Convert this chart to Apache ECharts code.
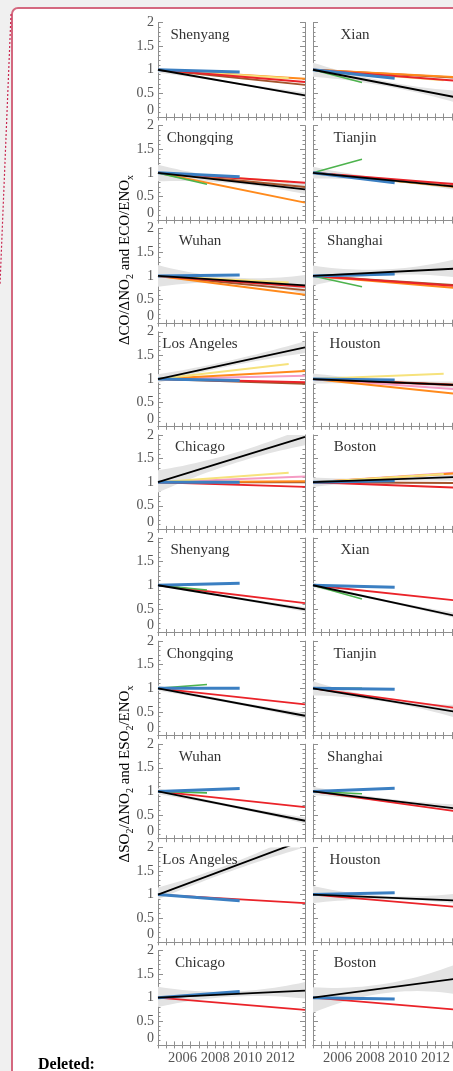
<!DOCTYPE html>
<html>
<head>
<meta charset="utf-8">
<script src="https://cdn.jsdelivr.net/npm/echarts@6/dist/echarts.min.js"></script>
<style>
  html, body { margin: 0; padding: 0; background: #f0f0f0; }
  #chart { width: 453px; height: 1071px; }
</style>
</head>
<body>
<div id="chart"></div>
<script>
// cities, row by row (left column, right column)
const cities = ['Shenyang', 'Xian', 'Chongqing', 'Tianjin', 'Wuhan', 'Shanghai',
  'Los Angeles', 'Houston', 'Chicago', 'Boston'];

const startYear = 2004.5;
const endYear = 2013.5;
const greenEnd = 2007.5;
const blueEnd = 2009.5;
const yellowEnd = 2012.5;
const bandYears = [2004.5, 2009, 2013.5];
const xLabelYears = [2006, 2008, 2010, 2012];

// every trend starts at 1 in startYear; these are the end values (null = not drawn)
const coBlack = [0.46, 0.40, 0.65, 0.70, 0.80, 1.16, 1.67, 0.87, 1.96, 1.11];
const coBlue = [0.95, 0.82, 0.92, 0.79, 1.02, 1.04, 0.97, 0.98, 1.00, 1.03];
const coGreen = [null, 0.73, 0.76, 1.29, null, 0.77, null, null, null, null];
const coYellow = [0.82, 0.78, 0.81, 0.73, 0.86, null, 1.32, 1.11, 1.20, 1.17];
const coOrange = [0.81, 0.84, 0.37, 0.69, 0.60, 0.74, 1.17, 0.68, 1.02, 1.19];
const coRed = [0.74, 0.76, 0.79, 0.75, 0.77, 0.78, 0.93, 0.87, 0.90, 0.88];
const coBrown = [0.68, 0.83, 0.70, 0.70, 0.70, 0.80, 0.90, 0.88, 1.00, 0.98];
const coPink = [null, null, null, null, null, null, 1.07, 0.78, 1.12, 1.21];
// confidence band round the black trend, at bandYears
const coBandLow = [[0.94, 0.71, 0.42], [0.85, 0.65, 0.28], [0.82, 0.78, 0.55], [0.88, 0.82, 0.62],
  [0.77, 0.85, 0.62], [0.80, 1.02, 0.96], [0.92, 1.28, 1.55], [0.90, 0.90, 0.80],
  [0.78, 1.38, 1.78], [0.90, 1.02, 1.02]];
const coBandHigh = [[1.04, 0.75, 0.52], [1.15, 0.75, 0.55], [1.17, 0.88, 0.78], [1.13, 0.88, 0.80],
  [1.23, 0.97, 1.02], [1.22, 1.14, 1.38], [1.10, 1.40, 1.80], [1.12, 0.98, 0.95],
  [1.25, 1.60, 2.15], [1.10, 1.08, 1.20]];

const so2Black = [0.49, 0.33, 0.42, 0.49, 0.38, 0.63, 2.16, 0.87, 1.15, 1.41];
const so2Blue = [1.04, 0.96, 1.00, 0.98, 1.06, 1.07, 0.87, 1.04, 1.13, 0.97];
const so2Green = [0.90, 0.71, 1.08, 1.00, 0.97, 0.95, null, null, null, null];
const so2Red = [0.62, 0.67, 0.66, 0.57, 0.67, 0.57, 0.82, 0.73, 0.74, 0.74];
const so2BandLow = [[0.97, 0.72, 0.44], [0.95, 0.64, 0.28], [0.95, 0.68, 0.36], [0.85, 0.71, 0.35],
  [0.94, 0.66, 0.32], [0.92, 0.78, 0.55], [0.90, 1.50, 2.00], [0.82, 0.90, 0.80],
  [0.80, 1.02, 0.98], [0.68, 1.10, 1.06]];
const so2BandHigh = [[1.03, 0.77, 0.54], [1.05, 0.69, 0.40], [1.06, 0.74, 0.48], [1.15, 0.78, 0.65],
  [1.07, 0.72, 0.45], [1.10, 0.85, 0.72], [1.15, 1.66, 2.35], [1.18, 0.97, 1.03],
  [1.23, 1.13, 1.33], [1.22, 1.30, 1.74]];

const SERIF = 'Liberation Serif';
const AXIS_GREY = '#8e8e8e';
const LABEL_GREY = '#555';

const COLORS = {
  black: '#000000', blue: '#3b7fc2', green: '#4db34d', yellow: '#f6e27c',
  orange: '#ff8a1c', red: '#ea2329', brown: '#a3542c', pink: '#f59cc4'
};

const blocks = [
  {
    band: [coBandLow, coBandHigh],
    lines: [
      ['pink', coPink, endYear, 2], ['brown', coBrown, endYear, 2], ['orange', coOrange, endYear, 2],
      ['yellow', coYellow, yellowEnd, 2], ['red', coRed, endYear, 2], ['green', coGreen, greenEnd, 1.6],
      ['blue', coBlue, blueEnd, 3], ['black', coBlack, endYear, 1.8]
    ]
  },
  {
    band: [so2BandLow, so2BandHigh],
    lines: [
      ['red', so2Red, endYear, 1.8], ['green', so2Green, greenEnd, 1.6],
      ['blue', so2Blue, blueEnd, 3], ['black', so2Black, endYear, 1.8]
    ]
  }
];

const colLeft = [158, 313];
const panelW = 147;
const panelH = 94.5;
const panelTop0 = 22.5;
const panelPitch = 103.1;

// quadratic curve through three pixel points (start, middle, end)
function curveThrough(p0, p1, p2, steps) {
  const c = [2 * p1[0] - (p0[0] + p2[0]) / 2, 2 * p1[1] - (p0[1] + p2[1]) / 2];
  const pts = [];
  for (let i = 0; i <= steps; i++) {
    const t = i / steps, u = 1 - t;
    pts.push([u * u * p0[0] + 2 * u * t * c[0] + t * t * p2[0],
      u * u * p0[1] + 2 * u * t * c[1] + t * t * p2[1]]);
  }
  return pts;
}

const grid = [], xAxis = [], yAxis = [], series = [], graphic = [];

graphic.push({
  type: 'rect', z: -10, silent: true,
  shape: { x: 12, y: 8, width: 480, height: 1100, r: 6 },
  style: { fill: '#ffffff', stroke: '#d4687f', lineWidth: 2 }
});
graphic.push({
  type: 'line', z: -9, silent: true,
  shape: { x1: 11, y1: 14, x2: 0, y2: 285 },
  style: { stroke: '#c9264f', lineWidth: 1.2, lineDash: [2, 2] }
});

let gi = 0;
blocks.forEach((block, b) => {
  for (let k = 0; k < cities.length; k++) {
    const row = b * 5 + Math.floor(k / 2);
    const col = k % 2;
    const left = colLeft[col];
    const top = panelTop0 + row * panelPitch;
    const isBottom = row === 9;

    grid.push({ left, top, width: panelW, height: panelH, outerBoundsMode: 'none', containLabel: false });

    const xBase = {
      type: 'value', gridIndex: gi, min: startYear, max: endYear, interval: 0.5,
      axisLine: { show: true, lineStyle: { color: AXIS_GREY, width: 1 } },
      axisTick: { show: true, inside: true, length: 3.5, lineStyle: { color: AXIS_GREY } },
      splitLine: { show: false }
    };
    xAxis.push(Object.assign({}, xBase, {
      position: 'bottom',
      axisLabel: {
        show: isBottom, margin: 6, fontFamily: SERIF, fontSize: 14.5, color: LABEL_GREY,
        showMinLabel: false, showMaxLabel: false,
        formatter: (v) => (xLabelYears.includes(v) ? String(v) : '')
      }
    }));
    xAxis.push(Object.assign({}, xBase, { position: 'top', axisLabel: { show: false } }));

    const yBase = {
      type: 'value', gridIndex: gi, min: 0, max: 2, interval: 0.5,
      axisLine: { show: true, lineStyle: { color: AXIS_GREY, width: 1 } },
      axisTick: { show: true, inside: true, length: 5, lineStyle: { color: AXIS_GREY } },
      minorTick: { show: true, splitNumber: 5, length: 2.5, lineStyle: { color: AXIS_GREY } },
      splitLine: { show: false }
    };
    yAxis.push(Object.assign({}, yBase, {
      position: 'left',
      axisLabel: {
        show: col === 0, margin: 4, fontFamily: SERIF, fontSize: 14, color: LABEL_GREY,
        verticalAlignMinLabel: 'bottom'
      }
    }));
    yAxis.push(Object.assign({}, yBase, { position: 'right', axisLabel: { show: false } }));

    // grey confidence band
    const low = block.band[0][k];
    const high = block.band[1][k];
    series.push({
      type: 'custom', coordinateSystem: 'cartesian2d',
      xAxisIndex: gi * 2, yAxisIndex: gi * 2, silent: true, animation: false, z: 1, clip: true,
      data: [[bandYears[0], low[0], high[0]]],
      renderItem: (params, api) => {
        const lo = bandYears.map((x, i) => api.coord([x, low[i]]));
        const hi = bandYears.map((x, i) => api.coord([x, high[i]]));
        const points = curveThrough(lo[0], lo[1], lo[2], 24)
          .concat(curveThrough(hi[2], hi[1], hi[0], 24));
        const cs = params.coordSys;
        return {
          type: 'polygon',
          shape: { points },
          style: { fill: '#e3e3e3' },
          clipPath: { type: 'rect', shape: { x: cs.x, y: cs.y, width: cs.width, height: cs.height } }
        };
      }
    });

    block.lines.forEach(([name, values, xEnd, width], li) => {
      const v = values[k];
      if (v == null) return;
      series.push({
        type: 'line', xAxisIndex: gi * 2, yAxisIndex: gi * 2, symbol: 'none',
        silent: true, animation: false, z: 2 + li * 0.01,
        lineStyle: { color: COLORS[name], width },
        data: [[startYear, 1], [xEnd, v]]
      });
    });

    graphic.push({
      type: 'text', z: 50, silent: true,
      x: left + 42, y: top + 12.5,
      style: {
        text: cities[k], fontFamily: SERIF, fontSize: 15, fill: '#333',
        align: 'center', verticalAlign: 'middle'
      }
    });

    gi++;
  }
});

const richName = {
  n: { fontFamily: SERIF, fontSize: 15, color: LABEL_GREY, lineHeight: 20, verticalAlign: 'middle' },
  s: { fontFamily: SERIF, fontSize: 10, color: LABEL_GREY, lineHeight: 10, verticalAlign: 'bottom' }
};
graphic.push({
  type: 'text', z: 50, silent: true, x: 125, y: 260, rotation: Math.PI / 2,
  style: {
    text: '{n|ΔCO/ΔNO}{s|2}{n| and ECO/ENO}{s|x}', rich: richName,
    align: 'center', verticalAlign: 'middle'
  }
});
graphic.push({
  type: 'text', z: 50, silent: true, x: 125, y: 774, rotation: Math.PI / 2,
  style: {
    text: '{n|ΔSO}{s|2}{n|/ΔNO}{s|2}{n| and ESO}{s|2}{n|/ENO}{s|x}', rich: richName,
    align: 'center', verticalAlign: 'middle'
  }
});
graphic.push({
  type: 'text', z: 50, silent: true, x: 38, y: 1065,
  style: {
    text: 'Deleted:', fontFamily: SERIF, fontSize: 16, fontWeight: 'bold', fill: '#000',
    align: 'left', verticalAlign: 'middle'
  }
});

const chart = echarts.init(document.getElementById('chart'), null, { renderer: 'canvas' });
chart.setOption({
  backgroundColor: '#f0f0f0',
  animation: false,
  grid, xAxis, yAxis, series,
  graphic: { elements: graphic }
});
</script>
</body>
</html>
